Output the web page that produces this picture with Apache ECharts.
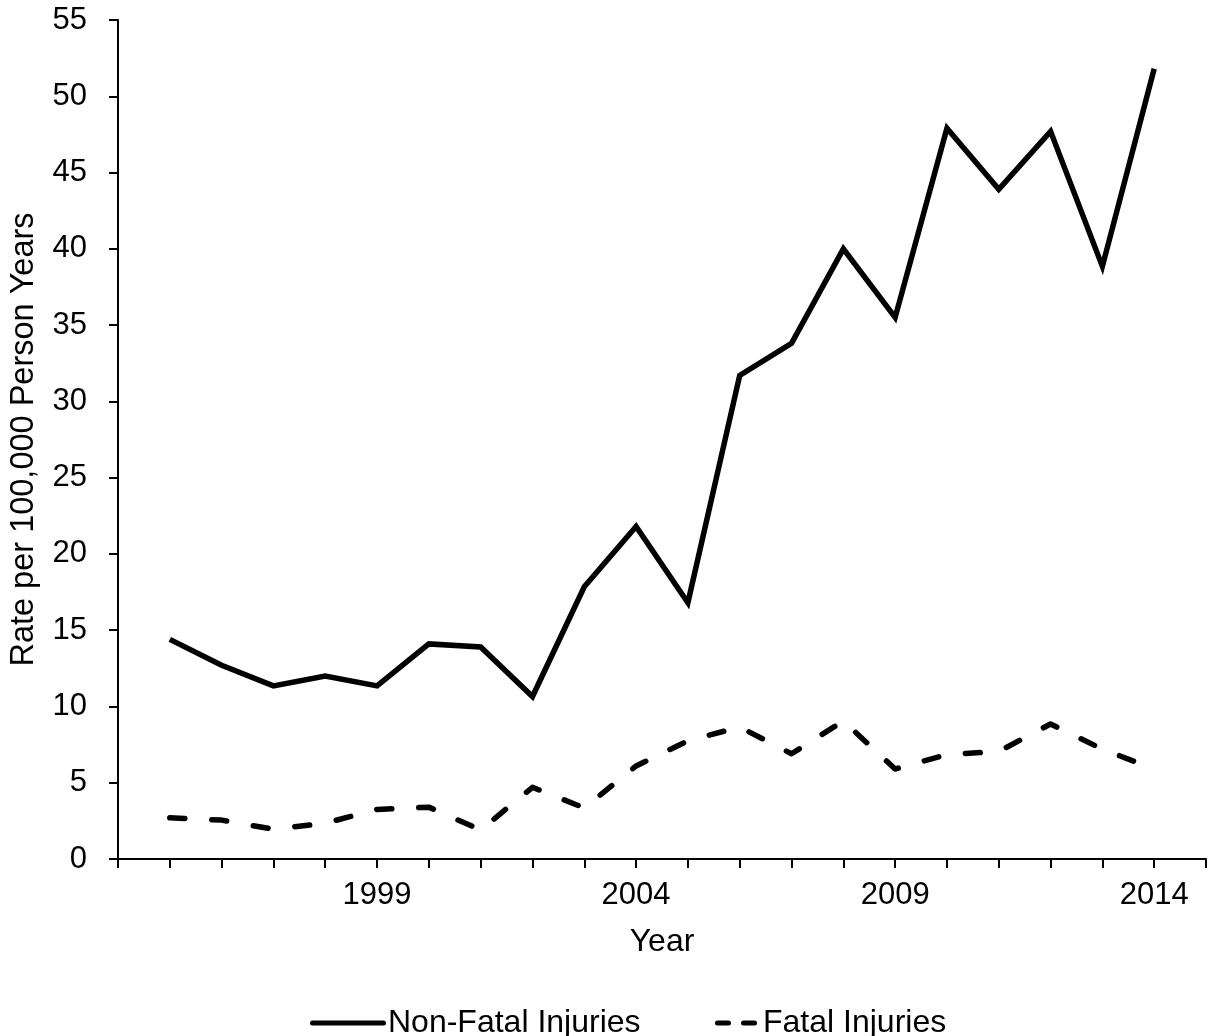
<!DOCTYPE html>
<html>
<head>
<meta charset="utf-8">
<script src="https://cdn.jsdelivr.net/npm/echarts@6/dist/echarts.min.js"></script>
<style>html,body{margin:0;padding:0;background:#fff;}#chart{width:1209px;height:1036px;}</style>
</head>
<body>
<div id="chart"></div>
<script>
const years = [1995,1996,1997,1998,1999,2000,2001,2002,2003,2004,2005,2006,2007,2008,2009,2010,2011,2012,2013,2014];
const nonFatal = [14.4,12.7,11.35,12.0,11.35,14.1,13.9,10.65,17.85,21.8,16.8,31.7,33.8,40.0,35.5,47.9,43.9,47.7,38.85,51.8];
const fatal = [2.7,2.55,1.95,2.35,3.25,3.4,1.9,4.7,3.35,6.1,7.75,8.65,6.9,9.05,5.9,6.85,7.05,8.85,7.2,5.9];
const xTickLabels = [1999,2004,2009,2014];
const yTicks = [0,5,10,15,20,25,30,35,40,45,50,55];
const seriesNames = ['Non-Fatal Injuries','Fatal Injuries'];

const FONT = 'Liberation Sans, Arial, sans-serif';
const chart = echarts.init(document.getElementById('chart'));
const pairs = arr => years.map((y,i)=>[y,arr[i]]);
chart.setOption({
  animation:false,
  backgroundColor:'#fff',
  grid:{left:113,right:0,top:20,bottom:177,containLabel:false},
  xAxis:{
    type:'value', min:1994, max:2015, interval:1,
    name:'Year', nameLocation:'middle', nameGap:67,
    nameTextStyle:{fontFamily:FONT,fontSize:32,color:'#000'},
    axisLine:{show:true,onZero:false,lineStyle:{color:'#000',width:2}},
    axisTick:{show:true,length:9,lineStyle:{color:'#000',width:2}},
    splitLine:{show:false},
    axisLabel:{fontFamily:FONT,fontSize:31,color:'#000',margin:21,
      formatter:v=>xTickLabels.includes(v)?String(v):''}
  },
  yAxis:{
    type:'value', min:yTicks[0], max:yTicks[yTicks.length-1], interval:5,
    name:'Rate per 100,000 Person Years', nameLocation:'middle', nameGap:77,
    nameTextStyle:{fontFamily:FONT,fontSize:32.5,color:'#000'},
    axisLine:{show:true,lineStyle:{color:'#000',width:2}},
    axisTick:{show:true,length:9,lineStyle:{color:'#000',width:2}},
    splitLine:{show:false},
    axisLabel:{fontFamily:FONT,fontSize:31,color:'#000',margin:31}
  },
  legend:[
    {data:[{name:seriesNames[0],icon:'path://M2.5,0H73.5A2.5,2.5 0 0 1 73.5,5H2.5A2.5,2.5 0 0 1 2.5,0Z'}],
     left:310,top:1007,padding:0,itemWidth:76,itemHeight:5,
     textStyle:{fontFamily:FONT,fontSize:32,color:'#000',padding:[0,0,0,-3]}},
    {data:[{name:seriesNames[1],icon:'path://M2.5,0H13.5A2.5,2.5 0 0 1 13.5,5H2.5A2.5,2.5 0 0 1 2.5,0ZM28.5,0H39.5A2.5,2.5 0 0 1 39.5,5H28.5A2.5,2.5 0 0 1 28.5,0Z'}],
     left:715,top:1007,padding:0,itemWidth:42,itemHeight:5,
     textStyle:{fontFamily:FONT,fontSize:32,color:'#000',padding:[0,0,0,1]}}
  ],
  series:[
    {name:seriesNames[0],type:'line',data:pairs(nonFatal),symbol:'none',
     lineStyle:{color:'#000',width:5.5,type:'solid',join:'miter'},itemStyle:{color:'#000'}},
    {name:seriesNames[1],type:'line',data:pairs(fatal),symbol:'none',
     lineStyle:{color:'#000',width:5.5,type:[15,27],cap:'round',join:'round'},itemStyle:{color:'#000'}}
  ]
});
</script>
</body>
</html>
